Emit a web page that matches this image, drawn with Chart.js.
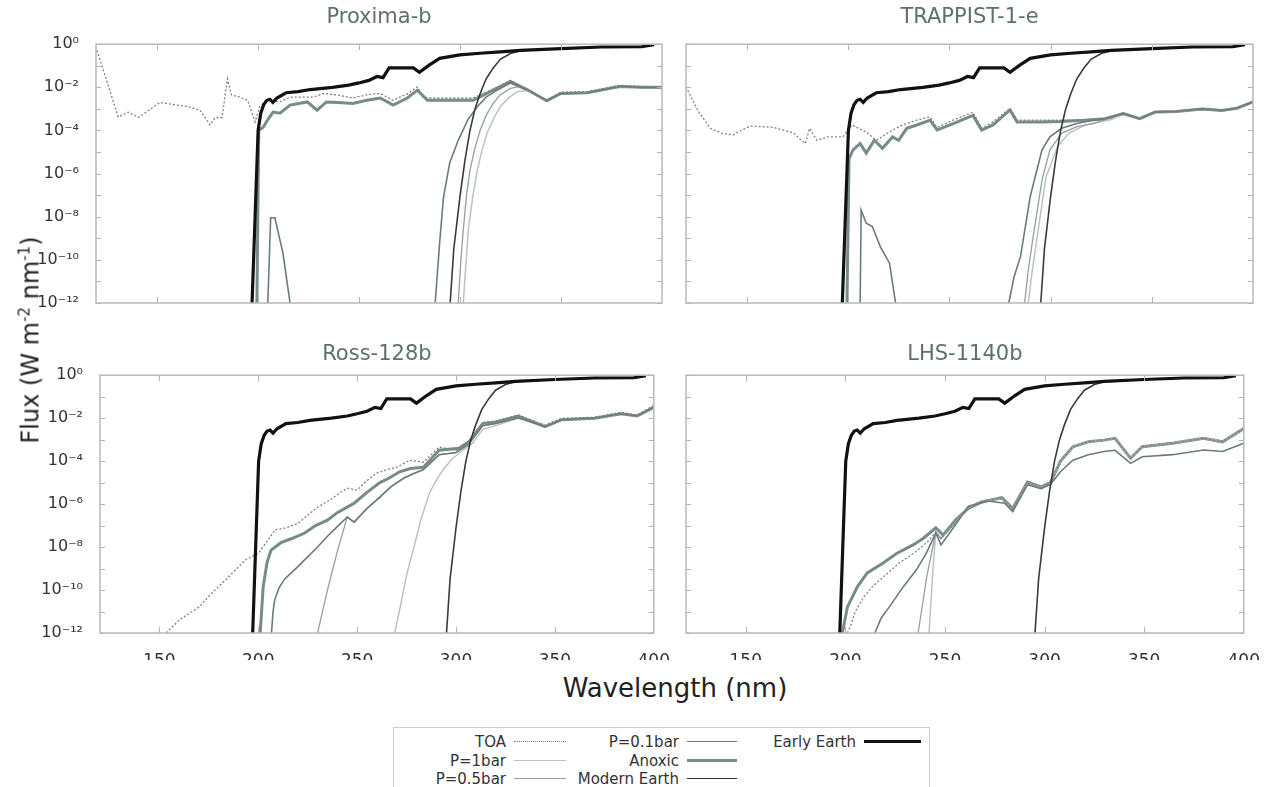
<!DOCTYPE html>
<html>
<head>
<meta charset="utf-8">
<script src="https://cdn.jsdelivr.net/npm/chart.js@4.4.1/dist/chart.umd.min.js"></script>
<style>
  body { margin: 0; background: #fff; }
  #wrap { position: relative; width: 1270px; height: 787px; overflow: hidden; font-family: 'DejaVu Sans', sans-serif; }
  canvas { position: absolute; }
  .axtitle { position: absolute; color: #222; white-space: nowrap; }
  #legend { position: absolute; left: 393px; top: 727px; width: 535px; height: 80px; border: 1px solid #cfcfcf; }
  .lab { position: absolute; font-size: 15px; color: #333; text-align: right; white-space: nowrap; line-height: 18px; }
  .smp { position: absolute; height: 0; }
</style>
</head>
<body>
<div id="wrap">
  <canvas id="c1" width="680" height="322" style="left:0;top:0"></canvas>
  <canvas id="c2" width="590" height="322" style="left:680px;top:0"></canvas>
  <canvas id="c3" width="680" height="348" style="left:0;top:312px"></canvas>
  <canvas id="c4" width="590" height="348" style="left:680px;top:312px"></canvas>
  <div class="axtitle" style="left:30px;top:340px;font-size:24px;transform:translate(-50%,-50%) rotate(-90deg);">Flux (W m<sup style="font-size:15px">-2</sup> nm<sup style="font-size:15px">-1</sup>)</div>
  <div class="axtitle" style="left:675px;top:688px;font-size:26px;transform:translate(-50%,-50%);">Wavelength (nm)</div>
  <div id="legend"></div>
</div>
<script>
// wavelength (nm) / flux (W m-2 nm-1) pairs
var xTicks = [150, 200, 250, 300, 350, 400];
var yDecades = [1e-12, 1e-11, 1e-10, 1e-9, 1e-8, 1e-7, 1e-6, 1e-5, 1e-4, 1e-3, 1e-2, 1e-1, 1];

// solar references, same in every panel
var earlyEarth = [[197.2,1e-12],[198.7,1e-8],[200.2,1e-4],[201.5,6.3e-4],[203,1.6e-3],[204.5,2.5e-3],[206,2.8e-3],[207.5,2.0e-3],[209.5,3.2e-3],[214,5.6e-3],[220,6.3e-3],[226,7.9e-3],[237,1.0e-2],[245,1.26e-2],[250,1.6e-2],[255,2.1e-2],[259,3.2e-2],[262,2.8e-2],[265,7.9e-2],[270,7.9e-2],[277,7.9e-2],[280,5.0e-2],[285,0.11],[290,0.22],[300,0.32],[310,0.38],[320,0.44],[330,0.52],[350,0.63],[370,0.74],[390,0.76],[396,0.95]];
var modernEarth = [[295.2,1e-12],[297,3.2e-10],[300,7.9e-8],[302.5,4.0e-6],[305,1e-4],[307.5,1e-3],[310,5e-3],[313,2.5e-2],[316.5,7.9e-2],[320,0.2],[325,0.37],[330,0.5],[350,0.63],[370,0.74],[390,0.76],[396,0.95]];

// Proxima-b
var proxTOA = [[120.5,0.52],[131,4.2e-4],[136,7.1e-4],[141,4.0e-4],[151.7,2.0e-3],[158,1.6e-3],[165,1.3e-3],[171.5,8.7e-4],[176.4,1.8e-4],[179,4e-4],[182.4,4e-4],[185,2.5e-2],[187,4.4e-3],[191,3.6e-3],[195,2.5e-3],[198.7,2.5e-4],[201,1.3e-3],[204.5,2.5e-3],[211,2.1e-3],[216,3.5e-3],[227.5,3.5e-3],[232.5,5.2e-3],[239,4.5e-3],[247,3.2e-3],[254,4.5e-3],[260.6,5.2e-3],[267,2.5e-3],[274,5e-3],[279,1.05e-2],[282,3.2e-3],[294,3.2e-3],[306.6,3.2e-3],[316,7.9e-3],[325,2.1e-2],[334,7.9e-3],[343,2.5e-3],[350,6e-3],[363,6.3e-3],[379,1.26e-2],[390,1.1e-2],[400,1.05e-2]];
var proxAnoxic = [[199.6,1e-12],[200.5,1e-4],[202.7,1.4e-4],[205,3.2e-4],[207.6,7.1e-4],[211,6.3e-4],[216,1.5e-3],[224.5,2.1e-3],[229.4,8.7e-4],[234,2.1e-3],[240,2.0e-3],[247,1.8e-3],[254,2.5e-3],[260.6,3.2e-3],[267,1.5e-3],[274,3.2e-3],[279,7.4e-3],[284,2.5e-3],[295,2.5e-3],[306.6,2.5e-3],[316,7.1e-3],[325,1.9e-2],[334,7.1e-3],[343,2.4e-3],[350,5.2e-3],[363,5.6e-3],[379,1.1e-2],[390,1e-2],[400,1e-2]];
var proxTail = [[343,2.4e-3],[350,5.2e-3],[363,5.6e-3],[379,1.1e-2],[390,1e-2],[400,1e-2]];
var proxP01 = [[205,1e-12],[206.4,9e-9],[208.5,9e-9],[212.5,2e-10],[216,1e-12],[217,null],[287.8,1e-12],[290,6.3e-10],[291.9,7.9e-8],[295,3.2e-6],[299.2,3.5e-5],[304,3.2e-4],[308.6,1.26e-3],[313,3.5e-3],[318.5,7.4e-3],[325,1.6e-2],[334,7.1e-3]];
var proxP05 = [[299.2,1e-12],[300.5,1e-10],[301.7,2.5e-9],[303.3,1e-7],[305,1.4e-6],[307.5,1.6e-5],[310,1e-4],[313,5e-4],[316.5,1.8e-3],[320,4.5e-3],[325,8.9e-3],[330,1.1e-2],[334,7.1e-3]];
var proxP1 = [[301.7,1e-12],[303,6.3e-11],[304.2,2.5e-9],[306.5,1e-7],[308.6,1.4e-6],[311,1.26e-5],[313.5,7.9e-5],[317,4e-4],[320,1.26e-3],[324,3.2e-3],[328.4,6.3e-3],[334,7.1e-3]];

// TRAPPIST-1-e
var trapTOA = [[120,1.07e-2],[126,7.9e-4],[132,1.26e-4],[138,7.1e-5],[143.5,6.3e-5],[148,1.1e-4],[152,1.6e-4],[157,1.5e-4],[163,1.4e-4],[168.6,1e-4],[173,7.9e-5],[176.3,4e-5],[179,2.5e-5],[181,1.26e-4],[184.6,3.5e-5],[190,5e-5],[197.5,5e-5],[202,1.8e-4],[209,8.3e-5],[214,3.5e-5],[222,1.05e-4],[227,1.8e-4],[234,3e-4],[240.5,4.2e-4],[244,1.4e-4],[252,3e-4],[261.7,7.1e-4],[266,1.26e-4],[271.6,2.5e-4],[280,1.07e-3],[283.5,3e-4],[295,3e-4],[305,3e-4],[317,3.2e-4],[327,3.5e-4],[336,6.3e-4],[344,3.6e-4],[351.7,7.4e-4],[362,7.9e-4],[375,1.05e-3],[384.5,8.9e-4],[392,1.1e-3],[400,2.1e-3]];
var trapAnoxic = [[199.5,1e-12],[200.5,5e-6],[202.5,1.26e-5],[206,2.5e-5],[209,8.9e-6],[213,3.5e-5],[217,1.5e-5],[222,5e-5],[225,3.5e-5],[229,1.26e-4],[234,1.8e-4],[240.5,3e-4],[244,1.05e-4],[252,2.1e-4],[261.7,5e-4],[266,1.05e-4],[271.6,1.8e-4],[280,8.9e-4],[283.5,2.5e-4],[295,2.5e-4],[305,2.6e-4],[317,3e-4],[327,3.5e-4],[336,6e-4],[344,3.5e-4],[351.7,7.1e-4],[362,7.6e-4],[375,1e-3],[384.5,8.5e-4],[392,1.07e-3],[400,2.1e-3]];
var trapTail = [[336,6e-4],[344,3.5e-4],[351.7,7.1e-4],[362,7.6e-4],[375,1e-3],[384.5,8.5e-4],[392,1.07e-3],[400,2.1e-3]];
var trapP01 = [[206,1e-12],[206.5,2e-8],[209,5e-9],[212,3.5e-9],[216,4e-10],[220.5,7e-11],[223.5,1e-12],[224,null],[279.4,1e-12],[282,1.6e-11],[285.2,1.45e-10],[290,8.7e-8],[295.8,1.26e-5],[299.7,5.1e-5],[305.5,1.26e-4],[313,2.1e-4],[320,2.8e-4],[327,3.5e-4]];
var trapP05 = [[287.2,1e-12],[289,3.2e-11],[291,6.3e-10],[295.8,5e-7],[299.7,1.26e-5],[305.5,7.4e-5],[313,1.5e-4],[321,2.1e-4],[327,3.2e-4]];
var trapP1 = [[289,1e-12],[291,3.2e-11],[293,6.3e-10],[297.8,7.2e-7],[303.5,1.8e-5],[309,7.4e-5],[317,1.8e-4],[324.8,2.5e-4],[330,3.2e-4]];

// Ross-128b
var rossTOA = [[153.5,1e-12],[160,4e-12],[170,1.6e-11],[177,7.9e-11],[185,4e-10],[193.5,2.5e-9],[200,5e-9],[204,1.6e-8],[208.5,6.3e-8],[214,7.9e-8],[220,1.26e-7],[230,7.2e-7],[236.5,1.6e-6],[241,3.2e-6],[245,5.5e-6],[250,4.5e-6],[255,1.26e-5],[260,2.8e-5],[265,4e-5],[270,5.2e-5],[276.5,1.1e-4],[283.5,8.9e-5],[291.5,4.5e-4],[300,3.2e-4],[308.5,1.2e-3],[313.5,6.3e-3],[320,7e-3],[331.5,1.4e-2],[345,4.7e-3],[353.5,1e-2],[370,1.1e-2],[383.5,1.9e-2],[391.5,1.4e-2],[400,4e-2]];
var rossAnoxic = [[201,1e-12],[202.5,1.4e-10],[204.5,2e-9],[206.5,7.2e-9],[211.5,1.6e-8],[217,2.5e-8],[223.5,4.5e-8],[229,1e-7],[235,1.8e-7],[240,4e-7],[245,7.2e-7],[248.5,1.1e-6],[255,3.5e-6],[261.5,1e-5],[266,1.6e-5],[271.5,3.2e-5],[277,4.5e-5],[283.5,5.2e-5],[291.5,3.2e-4],[301.5,4e-4],[306.5,7.9e-4],[313.5,5.6e-3],[320,6.6e-3],[331.5,1.26e-2],[345,4e-3],[353.5,8.5e-3],[370,1e-2],[383.5,1.6e-2],[391.5,1.26e-2],[400,3.2e-2]];
var rossTail = [[345,4e-3],[353.5,8.5e-3],[370,1e-2],[383.5,1.6e-2],[391.5,1.26e-2],[400,3.2e-2]];
var rossP01 = [[206.7,1e-12],[207.5,1e-11],[208.3,3.4e-11],[210.5,1.26e-10],[213.3,3.2e-10],[219,1e-9],[225,3.5e-9],[230,1e-8],[235,3.2e-8],[240,8.9e-8],[245,2.5e-7],[248.5,1.45e-7],[255,6.3e-7],[261.5,2.1e-6],[267,6.3e-6],[273.5,1.6e-5],[278,2.5e-5],[283.5,4e-5],[291.5,2e-4],[300,2.5e-4],[306.5,6.3e-4],[313.5,4.5e-3],[320,5.6e-3],[331.5,1.05e-2]];
var rossP05 = [[230,1e-12],[235,1e-10],[240,6.3e-9],[245,2.5e-7],[248.5,1.45e-7],[255,6.3e-7],[261.5,2.1e-6],[267,6.3e-6],[273.5,1.6e-5],[278,2.5e-5],[283.5,4e-5],[291.5,2e-4],[300,2.5e-4],[306.5,6.3e-4],[313.5,4.5e-3],[320,5.6e-3],[331.5,1.05e-2]];
var rossP1 = [[269,1e-12],[272,2e-11],[275,5e-10],[278.5,7.9e-9],[282,1.6e-7],[286.5,3.2e-6],[290,1.26e-5],[293.5,4e-5],[298,1.26e-4],[303.5,3.2e-4],[308.5,7.1e-4],[313.5,3e-3],[320,4.5e-3],[331.5,1e-2]];

// LHS-1140b
var lhsMid = [[255.3,1.4e-7],[261.7,7.1e-7],[268.6,1.4e-6],[278.5,1.8e-6],[284,5.6e-7],[291.4,9.5e-6],[298.3,6e-6],[303,9.5e-6]];
var lhsUpper = [[308,1e-4],[314.2,4.7e-4],[322,7.9e-4],[329.7,9.5e-4],[335.4,1.15e-3],[343.2,1.35e-4],[349,4.7e-4],[364.3,6.8e-4],[379.8,1.15e-3],[389.4,7.9e-4],[400,3.3e-3]];
var lhsTOA = [[201,1e-12],[202.5,2e-12],[205,1e-11],[209.4,5e-11],[214,1.6e-10],[219,4e-10],[227,1.8e-9],[235.6,6.3e-9],[241.9,2e-8],[245.4,5e-8],[248,2.5e-8]];
var lhsAnoxic = [[198.5,1e-12],[201,1.6e-11],[206,1.4e-10],[211,6.3e-10],[219,1.8e-9],[225.7,5e-9],[234,1.26e-8],[239,2.5e-8],[245.4,7.9e-8],[249,3.6e-8],[255.3,1.8e-7],[261.7,6.3e-7],[268.6,1.26e-6],[278.5,2e-6],[284,6.3e-7],[291.4,1.05e-5],[298.3,6.3e-6],[303,1e-5]];
var lhsP01 = [[214.8,1e-12],[218,5e-12],[222,1.6e-11],[229,1.4e-10],[235.6,8.5e-10],[240.5,5e-9],[245.4,4.5e-8],[248,1.26e-8],[255.3,1.1e-7],[261.7,7.9e-7],[271.6,1.4e-6],[280,1.1e-6],[284,4.5e-7],[291.4,7.9e-6],[298.3,5.2e-6],[303,8.3e-6],[308,3.2e-5],[314.2,1.1e-4],[322,2e-4],[329.7,2.8e-4],[335.4,3.2e-4],[343.2,7.9e-5],[349,1.6e-4],[364.3,2e-4],[379.8,3.3e-4],[389.4,2.8e-4],[400,6.8e-4]];
var lhsP05 = [[236.5,1e-12],[241,5e-10],[245.4,5e-8],[248,2.5e-8]];
var lhsP1 = [[242,1e-12],[244,1e-9],[245.4,5e-8],[248,2.5e-8]];

var FONT = "'DejaVu Sans', sans-serif";

// line styles, also used by the legend
var styles = {
    early:  { label: 'Early Earth',  color: '#111111', width: 3.2, dash: [] },
    modern: { label: 'Modern Earth', color: '#3a3a3a', width: 1.6, dash: [] },
    toa:    { label: 'TOA',          color: '#808080', width: 1.3, dash: [2, 2] },
    p01:    { label: 'P=0.1bar',     color: '#6b7b7b', width: 1.6, dash: [] },
    p05:    { label: 'P=0.5bar',     color: '#959f9f', width: 1.3, dash: [] },
    p1:     { label: 'P=1bar',       color: '#bac2c2', width: 1.5, dash: [] },
    anoxic: { label: 'Anoxic',       color: '#788a8a', width: 3.0, dash: [] }
};

function ds(key, pairs) {
    var s = styles[key];
    return {
        label: s.label,
        data: pairs.map(function(p) { return { x: p[0], y: p[1] }; }),
        borderColor: s.color,
        borderWidth: s.width,
        borderDash: s.dash,
        pointRadius: 0,
        tension: 0,
        spanGaps: false,
        fill: false
    };
}

function sup(n) {
    var map = { '-': '\u207B', '0': '\u2070', '1': '\u00B9', '2': '\u00B2', '3': '\u00B3', '4': '\u2074',
                '5': '\u2075', '6': '\u2076', '7': '\u2077', '8': '\u2078', '9': '\u2079' };
    return String(n).split('').map(function(c) { return map[c]; }).join('');
}

// frame and small inward ticks, like the gnuplot original
var frameTicks = {
    id: 'frameTicks',
    afterDatasetsDraw: function(chart) {
        var ctx = chart.ctx, a = chart.chartArea;
        var xs = chart.scales.x, ys = chart.scales.y;
        ctx.save();
        ctx.strokeStyle = '#b3b3b3';
        ctx.lineWidth = 1;
        xTicks.forEach(function(v) {
            if (v >= 400) return;
            var px = Math.round(xs.getPixelForValue(v)) + 0.5;
            ctx.beginPath();
            ctx.moveTo(px, a.bottom); ctx.lineTo(px, a.bottom - 6);
            ctx.moveTo(px, a.top); ctx.lineTo(px, a.top + 6);
            ctx.stroke();
        });
        yDecades.forEach(function(v) {
            var py = Math.round(ys.getPixelForValue(v)) + 0.5;
            ctx.beginPath();
            ctx.moveTo(a.left, py); ctx.lineTo(a.left + 5, py);
            ctx.moveTo(a.right, py); ctx.lineTo(a.right - 5, py);
            ctx.stroke();
        });
        ctx.lineWidth = 1.5;
        ctx.strokeStyle = '#b8b8b8';
        ctx.strokeRect(a.left, a.top, a.right - a.left, a.bottom - a.top);
        ctx.restore();
    }
};

function makePanel(id, title, datasets, o) {
    return new Chart(document.getElementById(id), {
        type: 'line',
        data: { datasets: datasets },
        options: {
            responsive: false,
            animation: false,
            devicePixelRatio: 1,
            events: [],
            layout: { padding: { left: 0, right: o.right, top: 0, bottom: 0 } },
            plugins: {
                legend: { display: false },
                tooltip: { enabled: false },
                title: {
                    display: true,
                    text: title,
                    fullSize: false,
                    color: '#5f6f6f',
                    font: { family: FONT, size: 21, weight: 'normal', lineHeight: 1.2 },
                    padding: { top: o.titleTop, bottom: o.titleBottom }
                }
            },
            scales: {
                x: {
                    type: 'linear', min: 120, max: 400,
                    grid: { display: false }, border: { display: false },
                    ticks: { display: o.showX, color: '#333', padding: 10, autoSkip: false, maxRotation: 0,
                             font: { family: FONT, size: 17 } },
                    afterBuildTicks: function(s) { s.ticks = xTicks.map(function(v) { return { value: v }; }); },
                    afterFit: function(s) { s.height = o.xHeight; }
                },
                y: {
                    type: 'logarithmic', min: 1e-12, max: 1,
                    grid: { display: false }, border: { display: false },
                    ticks: {
                        display: o.showY, color: '#333', padding: 9, autoSkip: false,
                        font: { family: FONT, size: 16 },
                        callback: function(v) {
                            var e = Math.round(Math.log10(v));
                            return e % 2 === 0 ? '10' + sup(e) : '';
                        }
                    },
                    afterBuildTicks: function(s) { s.ticks = yDecades.map(function(v) { return { value: v }; }); },
                    afterFit: function(s) { s.width = o.yWidth; }
                }
            }
        },
        plugins: [frameTicks]
    });
}

// first dataset is drawn on top
makePanel('c1', 'Proxima-b', [
    ds('early', earlyEarth), ds('modern', modernEarth), ds('toa', proxTOA),
    ds('p01', proxP01.concat(proxTail)), ds('p05', proxP05.concat(proxTail)), ds('p1', proxP1.concat(proxTail)),
    ds('anoxic', proxAnoxic)
], { right: 18, titleTop: 5, titleBottom: 14, showX: false, showY: true, xHeight: 19, yWidth: 96 });

makePanel('c2', 'TRAPPIST-1-e', [
    ds('early', earlyEarth), ds('modern', modernEarth), ds('toa', trapTOA),
    ds('p01', trapP01.concat(trapTail)), ds('p05', trapP05.concat(trapTail)), ds('p1', trapP1.concat(trapTail)),
    ds('anoxic', trapAnoxic)
], { right: 17, titleTop: 5, titleBottom: 14, showX: false, showY: false, xHeight: 19, yWidth: 6 });

makePanel('c3', 'Ross-128b', [
    ds('early', earlyEarth), ds('modern', modernEarth), ds('toa', rossTOA),
    ds('p01', rossP01.concat(rossTail)), ds('p05', rossP05.concat(rossTail)), ds('p1', rossP1.concat(rossTail)),
    ds('anoxic', rossAnoxic)
], { right: 18, titleTop: 30, titleBottom: 8, showX: true, showY: true, xHeight: 27, yWidth: 100 });

makePanel('c4', 'LHS-1140b', [
    ds('early', earlyEarth), ds('modern', modernEarth), ds('toa', lhsTOA.concat(lhsMid, lhsUpper)),
    ds('p01', lhsP01), ds('p05', lhsP05.concat(lhsMid, lhsUpper)), ds('p1', lhsP1.concat(lhsMid, lhsUpper)),
    ds('anoxic', lhsAnoxic.concat(lhsUpper))
], { right: 17, titleTop: 30, titleBottom: 8, showX: true, showY: false, xHeight: 27, yWidth: 6 });

// legend box under the panels (three columns, label then sample line)
var legendCols = [
    { right: 112, sample: 120, width: 52, keys: ['toa', 'p1', 'p05'] },
    { right: 285, sample: 293, width: 50, keys: ['p01', 'anoxic', 'modern'] },
    { right: 462, sample: 470, width: 57, keys: ['early'] }
];
var legend = document.getElementById('legend');
legendCols.forEach(function(col) {
    col.keys.forEach(function(k, row) {
        var s = styles[k];
        var top = 5 + row * 18.5;
        var lab = document.createElement('div');
        lab.className = 'lab';
        lab.textContent = s.label;
        lab.style.right = (535 - col.right) + 'px';
        lab.style.top = top + 'px';
        legend.appendChild(lab);
        var smp = document.createElement('div');
        smp.className = 'smp';
        smp.style.left = col.sample + 'px';
        smp.style.width = col.width + 'px';
        smp.style.top = (top + 9 - s.width / 2) + 'px';
        smp.style.borderTop = Math.max(1, s.width) + 'px ' + (s.dash.length ? 'dotted ' : 'solid ') + s.color;
        legend.appendChild(smp);
    });
});
</script>
</body>
</html>
